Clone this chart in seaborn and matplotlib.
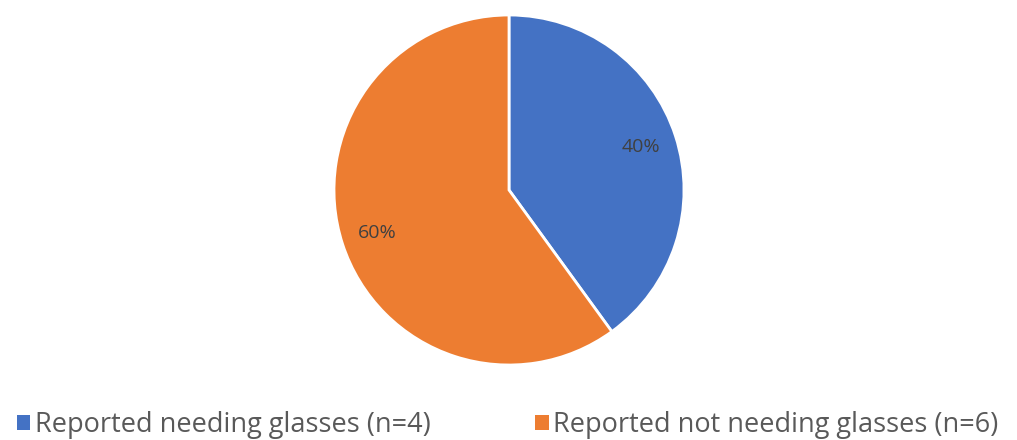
import matplotlib
matplotlib.use("Agg")
import matplotlib.pyplot as plt
import seaborn as sns
from matplotlib.patches import Patch

categories = ["Reported needing glasses (n=4)", "Reported not needing glasses (n=6)"]
values = [40, 60]
colors = ["#4472C4", "#ED7D31"]

sns.set_theme(style="white")
plt.rcParams['font.family'] = ['Open Sans', 'DejaVu Sans']

W, H = 1017, 440
fig = plt.figure(figsize=(W / 100, H / 100), dpi=100)
cx, cy, r = 509, 190, 175
ax = fig.add_axes([(cx - r) / W, (H - cy - r) / H, 2 * r / W, 2 * r / H])

wedges, texts, autotexts = ax.pie(
    values, colors=colors, startangle=90, counterclock=False,
    autopct='%1.0f%%', pctdistance=0.79,
    wedgeprops=dict(edgecolor='white', linewidth=2),
    textprops=dict(color='#404040', fontsize=14),
)
ax.set_xlim(-1, 1)
ax.set_ylim(-1, 1)
ax.set_aspect('equal')
ax.axis('off')

handles = [Patch(facecolor=c, edgecolor='none') for c in colors]
leg = fig.legend(handles, categories, loc='center left', bbox_to_anchor=(-0.002, (H - 425) / H),
                 ncol=2, frameon=False, fontsize=19.5, handlelength=0.5, handleheight=0.5,
                 handletextpad=0.17, columnspacing=3.85, labelcolor='#595959',
                 borderaxespad=0.3)

fig.savefig("out.png", dpi=100)
